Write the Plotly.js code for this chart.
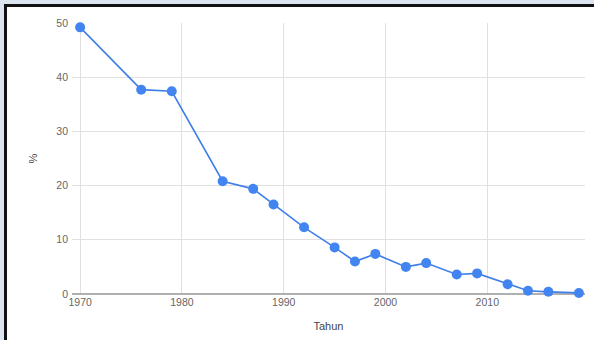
<!DOCTYPE html>
<html>
<head>
<meta charset="utf-8">
<script src="https://cdn.plot.ly/plotly-3.0.1.min.js"></script>
<style>
  html, body { margin: 0; padding: 0; width: 594px; height: 340px; overflow: hidden; background: #dbe4ef; }
  #frame { position: absolute; left: 4px; top: 4px; width: 600px; height: 350px; background: #ffffff; border-left: 3px solid #111; border-top: 3px solid #111; }
  #chart { position: absolute; left: 0; top: 0; width: 594px; height: 340px; }
</style>
</head>
<body>
<div id="frame"></div>
<div id="chart"></div>
<script>
const years = [1970, 1976, 1979, 1984, 1987, 1989, 1992, 1995, 1997, 1999, 2002, 2004, 2007, 2009, 2012, 2014, 2016, 2019];
const percent = [49.2, 37.7, 37.4, 20.8, 19.4, 16.5, 12.3, 8.6, 6.0, 7.4, 5.0, 5.7, 3.6, 3.8, 1.8, 0.6, 0.4, 0.2];
const xTickVals = [1970, 1980, 1990, 2000, 2010];
const yTickVals = [0, 10, 20, 30, 40, 50];
const xTitle = 'Tahun';
const yTitle = '%';

const trace = {
  x: years,
  y: percent,
  type: 'scatter',
  mode: 'lines+markers',
  line: { color: '#3f80e8', width: 1.6 },
  marker: { color: '#4285f0', size: 10 },
  cliponaxis: false,
  hoverinfo: 'x+y'
};

const font = { family: '"Liberation Sans", Arial, sans-serif', size: 11, color: '#444' };

const layout = {
  width: 594,
  height: 340,
  margin: { l: 72, r: 9, t: 23, b: 46 },
  paper_bgcolor: 'rgba(0,0,0,0)',
  plot_bgcolor: 'rgba(0,0,0,0)',
  showlegend: false,
  font: font,
  xaxis: {
    range: [1969.2, 2019.6],
    tickvals: xTickVals,
    ticktext: xTickVals.map(String),
    showgrid: true,
    gridcolor: '#e0e0e0',
    gridwidth: 1,
    zeroline: false,
    showline: false,
    ticks: '',
    tickfont: { family: font.family, size: 10.5, color: '#666' },
    title: { text: xTitle, font: { family: font.family, size: 11, color: '#444' }, standoff: 15 },
    automargin: false,
    fixedrange: true
  },
  yaxis: {
    range: [0, 50],
    tickvals: yTickVals,
    ticktext: yTickVals.map(String),
    showgrid: true,
    gridcolor: '#e0e0e0',
    gridwidth: 1,
    zeroline: true,
    zerolinecolor: '#b0b0b0',
    zerolinewidth: 1.5,
    showline: false,
    ticks: '',
    ticklabelstandoff: 3,
    tickfont: { family: font.family, size: 10.5, color: '#666' },
    title: { text: yTitle, font: { family: font.family, size: 11, color: '#444' }, standoff: 16 },
    automargin: false,
    fixedrange: true
  }
};

Plotly.newPlot('chart', [trace], layout, { displayModeBar: false, staticPlot: true });
</script>
</body>
</html>
